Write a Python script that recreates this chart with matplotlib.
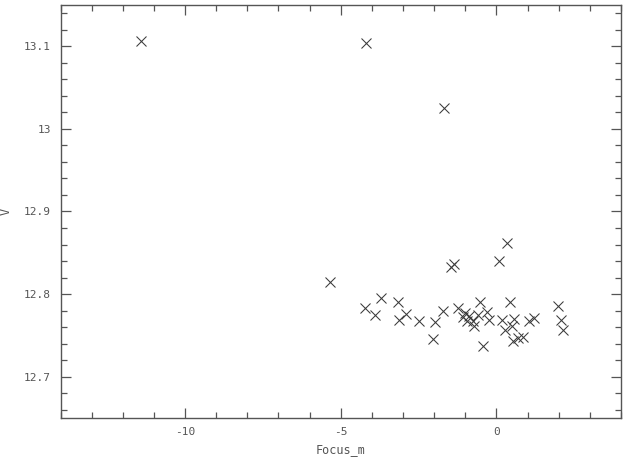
import matplotlib
matplotlib.use("Agg")
import matplotlib.pyplot as plt
from matplotlib.ticker import MultipleLocator, FixedLocator, FixedFormatter

focus_m = [-11.42, -4.19, -1.69, -5.33, 0.33, 0.09, -1.46, -1.37, -4.22, -3.91,
           -3.71, -3.17, -3.12, -2.92, -2.49, -1.98, -2.03, -1.73, -1.25, -0.42,
           -0.53, -1.01, -1.06, -0.87, -0.96, -0.76, -0.72, -0.58, -0.31, -0.23,
           0.17, 0.44, 0.57, 0.28, 0.49, 1.06, 1.21, 0.54, 0.70, 0.85,
           1.99, 2.08, 2.15]
v_mag = [13.106, 13.104, 13.025, 12.815, 12.862, 12.840, 12.833, 12.836, 12.783, 12.775,
         12.795, 12.790, 12.769, 12.776, 12.767, 12.766, 12.746, 12.780, 12.783, 12.737,
         12.791, 12.777, 12.772, 12.774, 12.768, 12.768, 12.761, 12.775, 12.779, 12.769,
         12.769, 12.791, 12.770, 12.757, 12.761, 12.768, 12.771, 12.743, 12.747, 12.748,
         12.786, 12.769, 12.757]

x_ticks = [-10, -5, 0]
x_tick_labels = ["-10", "-5", "0"]
y_ticks = [12.7, 12.8, 12.9, 13.0, 13.1]
y_tick_labels = ["12.7", "12.8", "12.9", "13", "13.1"]

fig = plt.figure(figsize=(6.23, 4.57), dpi=100)
ax = fig.add_axes([60.5/623, 1 - 418.2/457, (621 - 60.5)/623, (418.2 - 4.7)/457])

ax.plot(focus_m, v_mag, linestyle="none", marker="x", markersize=6.5,
        markeredgewidth=0.75, color="#3a3a3a")

ax.set_xlim(-14, 4)
ax.set_ylim(12.65, 13.15)

ax.xaxis.set_major_locator(FixedLocator(x_ticks))
ax.xaxis.set_major_formatter(FixedFormatter(x_tick_labels))
ax.yaxis.set_major_locator(FixedLocator(y_ticks))
ax.yaxis.set_major_formatter(FixedFormatter(y_tick_labels))
ax.xaxis.set_minor_locator(MultipleLocator(1))
ax.yaxis.set_minor_locator(MultipleLocator(0.02))

tc = "#555555"
font = "DejaVu Sans Mono"
ax.tick_params(which="both", direction="in", top=True, right=True,
               color=tc, width=0.9, labelcolor=tc, labelsize=8)
ax.tick_params(which="major", length=7)
ax.tick_params(which="minor", length=4)
ax.tick_params(axis="y", pad=7)
ax.tick_params(axis="x", pad=6)
for lab in ax.get_xticklabels() + ax.get_yticklabels():
    lab.set_fontfamily(font)
for s in ax.spines.values():
    s.set_color(tc)
    s.set_linewidth(1.0)

ax.set_xlabel("Focus_m", fontfamily=font, fontsize=8.5, color=tc, labelpad=5)
fig.text(6/623, 1 - 211/457, "V", rotation=90, ha="center", va="center",
         fontfamily=font, fontsize=8.5, color=tc)

fig.savefig("out.png", dpi=100)
